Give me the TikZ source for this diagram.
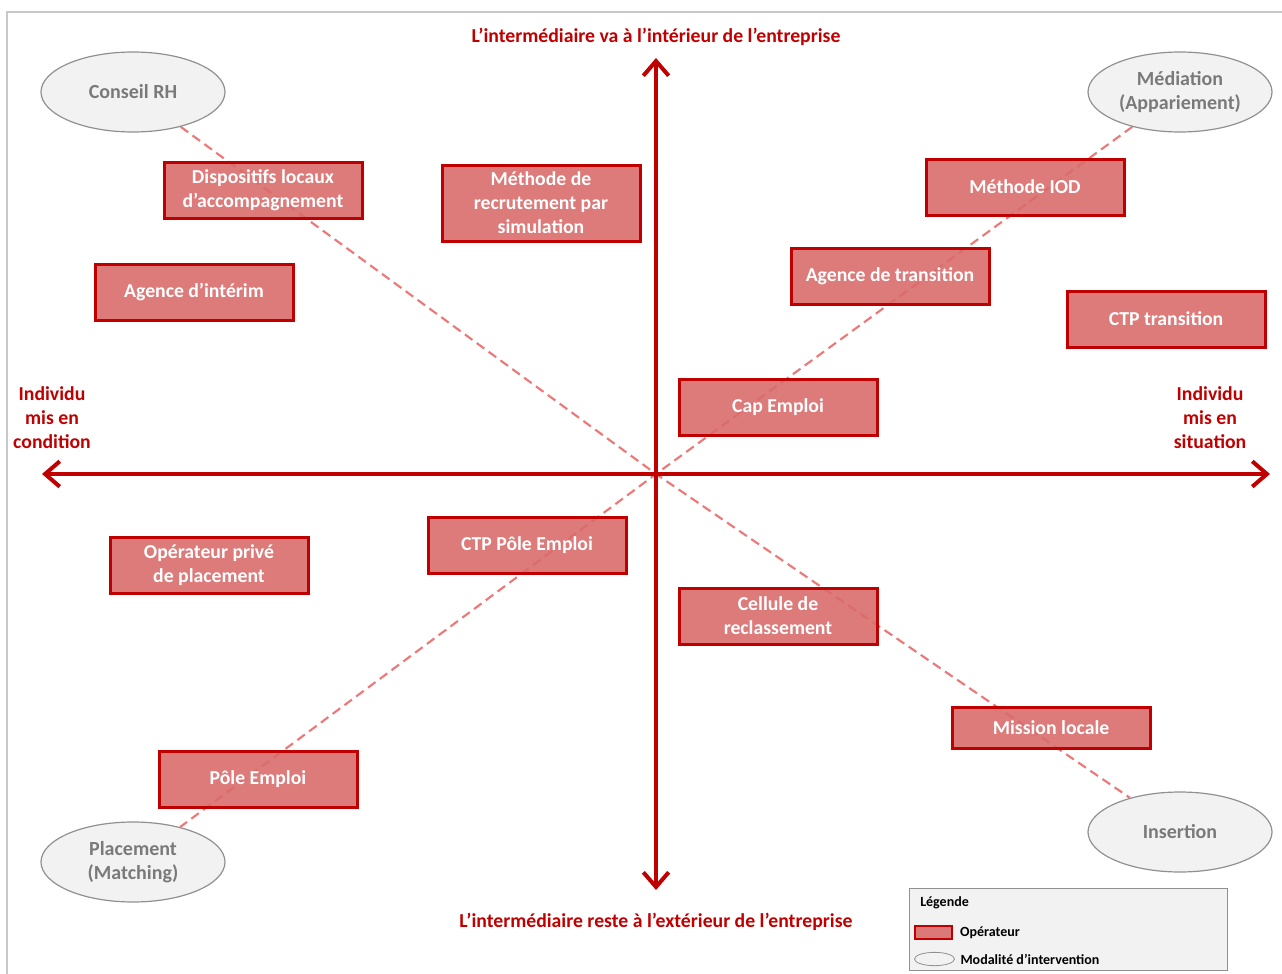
\documentclass[tikz,border=0pt]{standalone}
\usepackage{fontspec}
\setmainfont{Carlito}
\usetikzlibrary{arrows.meta,shapes.geometric,positioning}

\definecolor{axisred}{HTML}{C00000}
\definecolor{opfill}{HTML}{D96B6B}
\definecolor{diagpink}{HTML}{EE7878}
\definecolor{modfill}{HTML}{F2F2F2}
\definecolor{modline}{HTML}{909090}
\definecolor{modtext}{HTML}{7A7A7A}
\definecolor{framegray}{HTML}{C8C8C8}

\begin{document}
\begin{tikzpicture}[
    x=0.75pt, % one unit is one pixel of the layout
    y=-0.75pt, % y runs downward, as on screen
    operator/.style={draw=axisred, line width=2.25pt, fill=opfill, fill opacity=0.9,
        text opacity=1, text=white, minimum width=148.5pt, minimum height=42pt,
        inner sep=2pt, align=center, font=\fontsize{14.8}{17.8}\selectfont\bfseries},
    modality/.style={ellipse, draw=modline, line width=0.9pt, fill=modfill, text=modtext,
        minimum width=138pt, minimum height=60pt, inner sep=0pt, align=center,
        font=\fontsize{15}{18}\selectfont\bfseries},
    axis/.style={axisred, line width=3pt,
        {Straight Barb[length=11pt,width=19pt]}-{Straight Barb[length=11pt,width=19pt]}},
    axis label/.style={text=axisred, align=center, font=\fontsize{14.8}{18}\selectfont\bfseries},
    diagonal/.style={diagpink, line width=1.6pt, dash pattern=on 7pt off 4pt},
    legend text/.style={font=\fontsize{10.5}{12}\selectfont\bfseries, inner sep=0pt}
    ]

\useasboundingbox (0,0) rectangle (1282,974);

% --- Frame ---
\draw[framegray, line width=1.5pt] (7,974) -- (7,12) -- (1282,12);

% --- Modalities (corners) ---
\node[modality] (conseil)   at (133,92)   {Conseil RH};
\node[modality] (mediation) at (1180,92)  {Médiation\\(Appariement)};
\node[modality] (placement) at (133,862)  {Placement\\(Matching)};
\node[modality] (insertion) at (1180,832) {Insertion};

% --- Axes ends ---
\coordinate (O)      at (656,474);
\coordinate (top)    at (656,58);
\coordinate (bottom) at (656,890);
\coordinate (left)   at (42,474);
\coordinate (right)  at (1270,474);

% --- Diagonals, from one modality to the opposite one ---
\draw[diagonal] (conseil) -- (O) -- (insertion);
\draw[diagonal] (mediation) -- (O) -- (placement);

% --- Axes ---
\draw[axis] (bottom) -- (top);
\draw[axis] (left) -- (right);

\node[axis label] (inside)    at (656,37)   {L’intermédiaire va à l’intérieur de l’entreprise};
\node[axis label] (outside)   at (656,922)  {L’intermédiaire reste à l’extérieur de l’entreprise};
\node[axis label] (condition) at (52,418)   {Individu\\mis en\\condition};
\node[axis label] (situation) at (1210,418) {Individu\\mis en\\situation};

% --- Operators ---
\foreach \name/\px/\py/\txt in {
    dispositifs/263/190/{Dispositifs locaux\\d’accompagnement},
    interim/194/292/{Agence d’intérim},
    iod/1025/187/{Méthode IOD},
    transition/890/276/{Agence de transition},
    ctptrans/1166/319/{CTP transition},
    capemploi/778/407/{Cap Emploi},
    prive/209/565/{Opérateur privé\\de placement},
    ctppole/527/545/{CTP Pôle Emploi},
    cellule/778/616/{Cellule de\\reclassement},
    pole/258/779/{Pôle Emploi}} {
    \node[operator] (\name) at (\px,\py) {\txt};
}
\node[operator, minimum height=57pt, font=\fontsize{14.8}{18}\selectfont\bfseries]
    (simulation) at (541,203) {Méthode de\\recrutement par\\simulation};
\node[operator, minimum height=31pt] (mission) at (1051,728) {Mission locale};

% --- Legend ---
\node[draw=modline, fill=modfill, line width=0.75pt, minimum width=239pt,
      minimum height=61pt, inner sep=0pt] (legend) at (1068.5,929.5) {};
\node[legend text, anchor=west] (legtitle) at (920,903) {Légende};
\node[draw=axisred, line width=1.5pt, fill=opfill, fill opacity=0.9, minimum width=28pt,
      minimum height=10pt, inner sep=0pt] (legop) at (933.5,932.5) {};
\node[legend text, right=5pt of legop] (legoptext) {Opérateur};
\node[ellipse, draw=modline, line width=0.6pt, fill=modfill, minimum width=30pt,
      minimum height=10pt, inner sep=0pt] (legmod) at (934.5,959) {};
\node[legend text, right=4pt of legmod] (legmodtext) {Modalité d’intervention};

\end{tikzpicture}
\end{document}
